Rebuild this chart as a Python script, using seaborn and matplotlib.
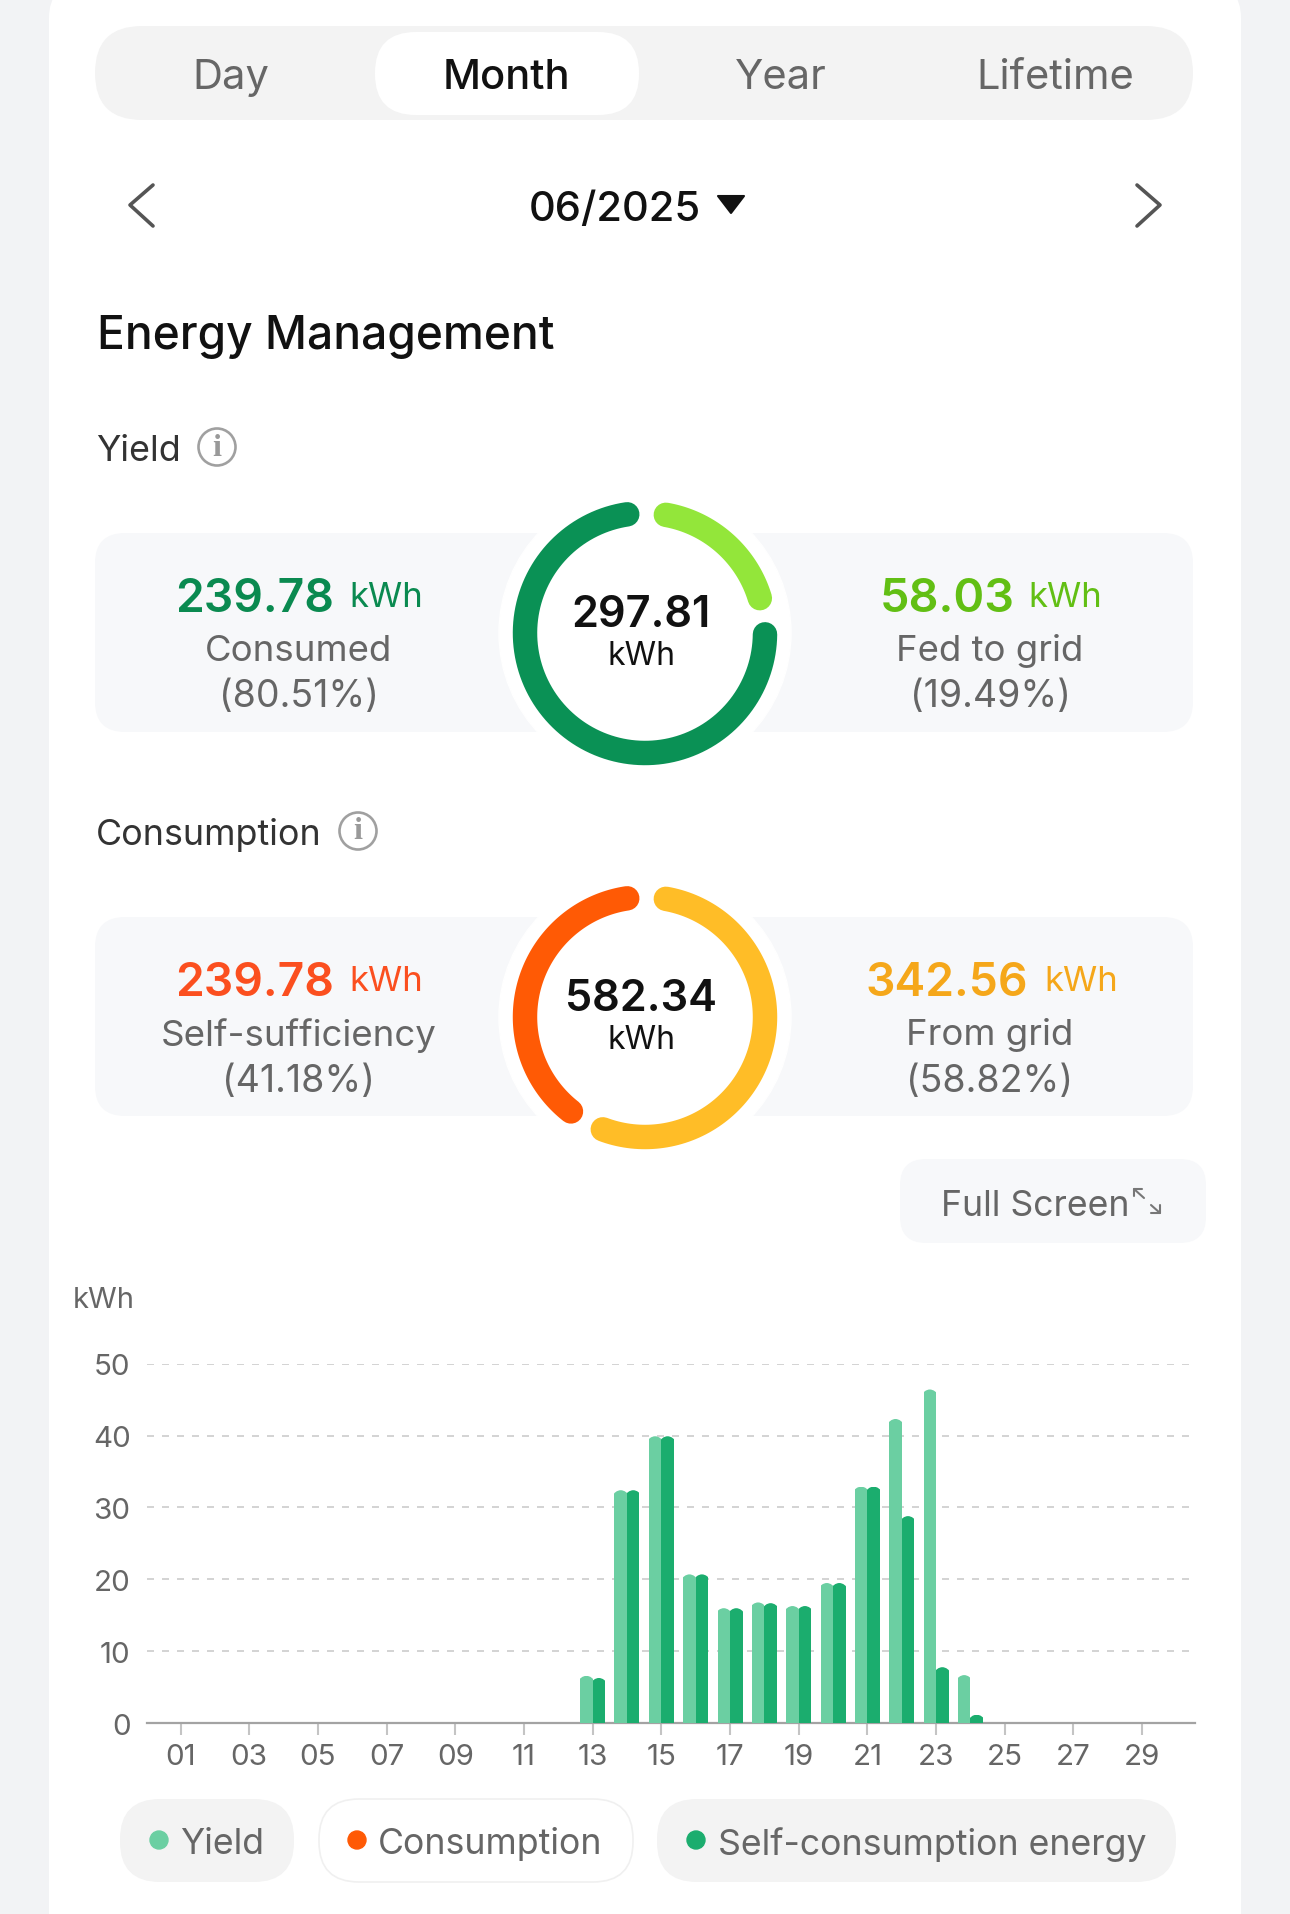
import numpy as np
import pandas as pd
import matplotlib
matplotlib.use("Agg")
import matplotlib.pyplot as plt
from matplotlib.patches import FancyBboxPatch, Circle, Polygon
from matplotlib.path import Path
import seaborn as sns

W, H = 1290, 1915

days = [f"{d:02d}" for d in range(1, 31)]
yield_kwh = [0] * 12 + [6.6, 32.4, 39.9, 20.7, 16.0, 16.8, 16.3, 19.5, 32.9, 42.3, 46.4, 6.7] + [0] * 6
self_kwh = [0] * 12 + [6.3, 32.4, 39.9, 20.7, 16.0, 16.7, 16.3, 19.5, 32.9, 28.8, 7.8, 1.2] + [0] * 6

tabs = ["Day", "Month", "Year", "Lifetime"]
y_ticks = [0, 10, 20, 30, 40, 50]

yield_parts = [58.03, 239.78]
consumption_parts = [342.56, 239.78]

GREEN_DARK = "#0a9155"
GREEN_LIGHT = "#93e63a"
ORANGE = "#ff5a05"
YELLOW = "#ffbd27"
BAR_LIGHT = "#6bcfa2"
BAR_DARK = "#1bad6e"
GREY_TEXT = "#666666"
PILL = "#f3f3f3"
CARD = "#f7f8fa"

sns.set_theme(style="white")
plt.rcParams["font.family"] = ["Inter", "DejaVu Sans"]

fig = plt.figure(figsize=(W / 100, H / 100), dpi=100, facecolor="#f2f3f5")
ui = fig.add_axes([0, 0, 1, 1])
ui.set_xlim(0, W)
ui.set_ylim(H, 0)
ui.axis("off")


def rounded(x0, y0, x1, y1, r, color, edge="none", z=1):
    ui.add_patch(FancyBboxPatch((x0 + r, y0 + r), x1 - x0 - 2 * r, y1 - y0 - 2 * r,
                                boxstyle=f"round,pad={r},rounding_size={r}",
                                facecolor=color, edgecolor=edge, linewidth=1.2, zorder=z))


def label(x, y, s, size, color="#111111", ha="center", weight="normal", **kw):
    ui.text(x, y, s, fontsize=size, color=color, ha=ha, va="center_baseline", weight=weight, zorder=6, **kw)


def donut(cx, cy, parts, colors, start=10, side_gap=17.5, top_gap=18.5):
    usable = 360 - side_gap - top_gap
    ui.add_patch(Circle((cx, cy), 146, color="white", zorder=3))
    angle = start
    for value, color in zip(parts, colors):
        sweep = value / sum(parts) * usable
        t = np.radians(np.linspace(angle, angle + sweep, 120))
        ui.plot(cx + 120 * np.sin(t), cy - 120 * np.cos(t), color=color, lw=17.6,
                solid_capstyle="round", zorder=4)
        angle += sweep + side_gap


def info_icon(x, y):
    ui.add_patch(Circle((x, y), 18.5, facecolor="none", edgecolor="#a0a0a0", lw=1.9, zorder=5))
    ui.text(x, y, "i", fontsize=23, color="#999999", ha="center", va="center", weight="bold",
            family="Liberation Serif", zorder=6)


# page card
rounded(49, -15, 1241, H + 60, 34, "white")

# period tabs
rounded(95, 27, 1193, 121, 47, PILL)
rounded(375, 33, 639, 116, 41, "white", z=2)
tab_x = [231, 506, 781, 1055]
for name, x in zip(tabs, tab_x):
    label(x, 74, name, 30, "#111111" if name == "Month" else GREY_TEXT, weight="medium" if name == "Month" else "normal")

# date picker
ui.plot([153, 130, 153], [186, 206, 227], color="#555555", lw=2.6, solid_capstyle="round", solid_joinstyle="round")
ui.plot([1137, 1160, 1137], [186, 206, 227], color="#555555", lw=2.6, solid_capstyle="round", solid_joinstyle="round")
label(615, 206, "06/2025", 30, weight="medium")
ui.add_patch(Polygon([(718, 197), (744, 197), (731, 214)], closed=True, facecolor="#111111",
                     edgecolor="#111111", lw=1.5, joinstyle="round", zorder=5))

label(97, 332, "Energy Management", 33.2, ha="left", weight="medium")

# yield block
label(96, 448, "Yield", 25.8, "#333333", ha="left")
info_icon(217, 448)
rounded(95, 534, 1193, 733, 30, CARD)
donut(645, 634, yield_parts, [GREEN_LIGHT, GREEN_DARK])
label(641, 611, "297.81", 31.2, weight="semibold")
label(641, 653, "kWh", 23)
label(175, 595, "239.78", 33.3, "#0a8a50", ha="left", weight="semibold")
label(349, 595, "kWh", 25, "#0a8a50", ha="left")
label(299, 648, "Consumed", 26.3, GREY_TEXT)
label(299, 693, "(80.51%)", 27, GREY_TEXT)
label(880, 595, "58.03", 33.7, "#62bf14", ha="left", weight="semibold")
label(1028, 595, "kWh", 25, "#62bf14", ha="left")
label(990, 648, "Fed to grid", 26.3, GREY_TEXT)
label(990, 693, "(19.49%)", 27, GREY_TEXT)

# consumption block
label(96, 832, "Consumption", 25.8, "#333333", ha="left")
info_icon(358, 832)
rounded(95, 918, 1193, 1117, 30, CARD)
donut(645, 1018, consumption_parts, [YELLOW, ORANGE])
label(641, 995, "582.34", 31.2, weight="semibold")
label(641, 1037, "kWh", 23)
label(175, 979, "239.78", 33.3, "#fb4f1f", ha="left", weight="semibold")
label(349, 979, "kWh", 25, "#fb4f1f", ha="left")
label(299, 1032, "Self-sufficiency", 26.4, GREY_TEXT)
label(299, 1078, "(41.18%)", 27, GREY_TEXT)
label(865, 979, "342.56", 33.3, "#f5a71a", ha="left", weight="semibold")
label(1044, 979, "kWh", 25, "#f5a71a", ha="left")
label(990, 1032, "From grid", 26.3, GREY_TEXT)
label(990, 1078, "(58.82%)", 27, GREY_TEXT)

# full screen button
rounded(900, 1160, 1206, 1244, 26, CARD)
label(941, 1203, "Full Screen", 25.7, GREY_TEXT, ha="left")
ui.plot([1134, 1144], [1190, 1199], color="#777777", lw=1.5)
ui.plot([1134, 1134, 1142], [1197, 1190, 1190], color="#777777", lw=1.5)
ui.plot([1151, 1160], [1206, 1214], color="#777777", lw=1.5)
ui.plot([1151, 1160, 1160], [1214, 1214, 1206], color="#777777", lw=1.5)

label(104, 1298, "kWh", 21, GREY_TEXT)

# bar chart
ax = fig.add_axes([147.2 / W, 1 - 1724.3 / H, (1194 - 146.5) / W, 359.7 / H])
ax.patch.set_alpha(0)
df = pd.DataFrame({"day": days * 2,
                   "kwh": yield_kwh + self_kwh,
                   "series": ["Yield"] * 30 + ["Self-consumption energy"] * 30})
sns.barplot(data=df, x="day", y="kwh", hue="series", palette=[BAR_LIGHT, BAR_DARK],
            width=0.728, gap=0, saturation=1, legend=False, linewidth=0, edgecolor="none", ax=ax, zorder=3)
ax.set_xlim(-0.97, 29.53)
ax.set_ylim(0, 50)
ax.set_xlabel("")
ax.set_ylabel("")
ax.set_xticks(range(0, 30, 2))
ax.set_xticklabels(days[::2])
ax.set_yticks(y_ticks)
ax.grid(False)
ax.grid(axis="y", color="#d4d4d4", lw=1.44, linestyle=(0, (3.5, 4)), zorder=0)
ax.set_axisbelow(True)
for side in ["top", "right", "left"]:
    ax.spines[side].set_visible(False)
ax.spines["bottom"].set_color("#a3a3a3")
ax.spines["bottom"].set_linewidth(1.6)
ax.tick_params(axis="x", length=8.5, width=1.5, color="#c4c4c4", labelsize=21.3, labelcolor=GREY_TEXT, pad=6, bottom=True)
ax.tick_params(axis="y", length=0, labelsize=21.3, labelcolor=GREY_TEXT, pad=12)
for grid_line in ax.get_ygridlines()[:1]:
    grid_line.set_visible(False)

# round the top of every bar
px_day = (1194 - 146.5) / 30.5
px_unit = 359.7 / 50
for bar in ax.patches:
    h = bar.get_height()
    if not h:
        continue
    x0, w = bar.get_x(), bar.get_width()
    ry = min(h, w * px_day / 2 / px_unit)
    k = 0.5523
    # clip a bit wider than the bar, otherwise a pale seam shows between the pair
    s = 1.5 / px_day
    xl, xr, xm = x0 - s, x0 + w + s, x0 + w / 2
    verts = [(xl, 0), (xl, h - ry), (xl, h - ry + k * ry), (xm - k * w / 2, h), (xm, h),
             (xm + k * w / 2, h), (xr, h - ry + k * ry), (xr, h - ry), (xr, 0), (xl, 0)]
    codes = [Path.MOVETO, Path.LINETO, Path.CURVE4, Path.CURVE4, Path.CURVE4,
             Path.CURVE4, Path.CURVE4, Path.CURVE4, Path.LINETO, Path.CLOSEPOLY]
    bar.set_clip_path(Path(verts, codes), ax.transData)

# legend pills
rounded(120, 1800, 294, 1883, 40, PILL)
rounded(319, 1800, 633, 1883, 40, "white", edge="#f0f0f0")
rounded(657, 1800, 1176, 1883, 40, PILL)
for x, color in zip([159, 357, 696], [BAR_LIGHT, ORANGE, BAR_DARK]):
    ui.add_patch(Circle((x, 1841), 9, color=color, zorder=5))
for x, name in zip([180, 378, 718], ["Yield", "Consumption", "Self-consumption energy"]):
    label(x, 1841, name, 25.7, GREY_TEXT, ha="left")

fig.savefig("out.png", dpi=100, facecolor=fig.get_facecolor())
